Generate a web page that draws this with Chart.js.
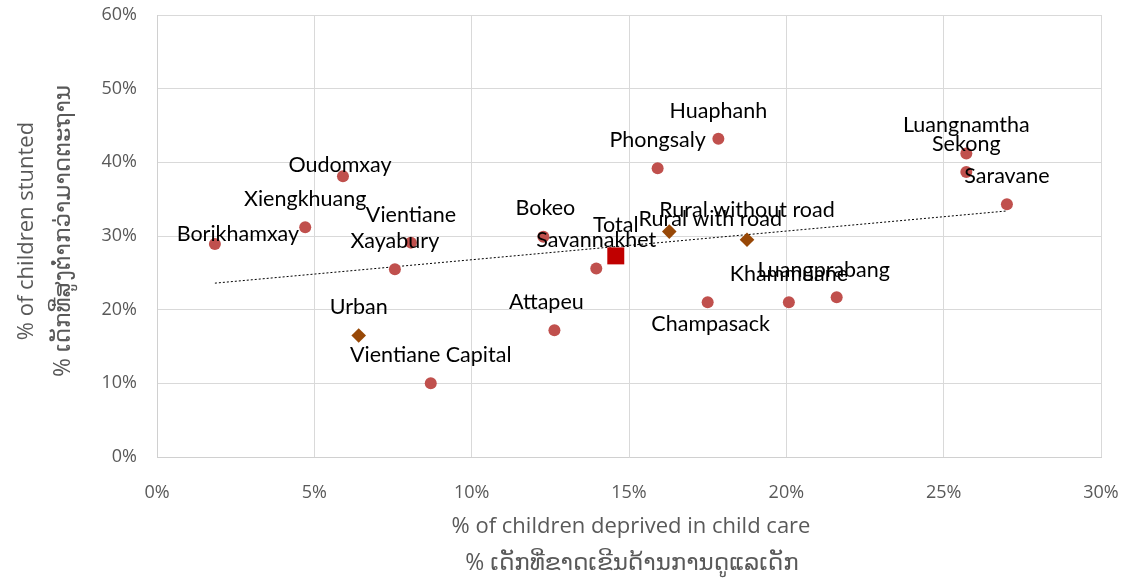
<!DOCTYPE html>
<html>
<head>
<meta charset="utf-8">
<script src="https://cdn.jsdelivr.net/npm/chart.js@4.4.1/dist/chart.umd.min.js"></script>
<style>
  html, body { margin: 0; padding: 0; background: #ffffff; }
  #wrap { width: 1127px; height: 583px; }
</style>
</head>
<body>
<div id="wrap"><canvas id="c" width="1127" height="583"></canvas></div>
<script>
// Provinces: child-care deprivation (%) vs stunting (%)
const provinceNames = ['Borikhamxay', 'Xiengkhuang', 'Oudomxay', 'Vientiane', 'Xayabury',
  'Vientiane Capital', 'Bokeo', 'Savannakhet', 'Attapeu', 'Phongsaly', 'Huaphanh',
  'Champasack', 'Khammuane', 'Luangprabang', 'Luangnamtha', 'Sekong', 'Saravane'];
const provinceDeprived = [1.84, 4.71, 5.91, 8.07, 7.56, 8.70, 12.28, 13.96, 12.63, 15.91, 17.84,
  17.50, 20.08, 21.60, 25.72, 25.72, 27.01];
const provinceStunted = [28.9, 31.2, 38.1, 29.1, 25.5, 10.0, 29.9, 25.6, 17.2, 39.2, 43.2,
  21.0, 21.0, 21.7, 41.2, 38.7, 34.3];

// Area of residence
const areaNames = ['Urban', 'Rural with road', 'Rural without road'];
const areaDeprived = [6.41, 16.28, 18.75];
const areaStunted = [16.5, 30.6, 29.5];

// National total
const totalNames = ['Total'];
const totalDeprived = [14.58];
const totalStunted = [27.3];

// Linear trend (end points)
const trendDeprived = [1.84, 27.01];
const trendStunted = [23.6, 33.4];

// Axis ticks
const xTicks = [0, 5, 10, 15, 20, 25, 30];
const yTicks = [0, 10, 20, 30, 40, 50, 60];

const xTitle = ['% of children deprived in child care', '% ເດັກທີ່ຂາດເຂີນດ້ານການດູແລເດັກ'];
const yTitle = ['% of children stunted', '% ເດັກທີ່ສູງຕ່ຳກວ່າມາດຕະຖານ'];

// Label placement relative to the marker centre (pixels)
const labelShift = {
  'Borikhamxay': [23, -10], 'Oudomxay': [-3, -11], 'Bokeo': [2, -29], 'Attapeu': [-8, -28],
  'Champasack': [3, 22], 'Luangprabang': [-13, -27], 'Rural with road': [41, -13],
  'Rural without road': [0, -30], 'Total': [0, -31]
};
const defaultShift = [0, -28];

const pts = (xs, ys) => xs.map((x, i) => ({ x: x, y: ys[i] }));

const labelFont = '21.5px Lato, "Open Sans", sans-serif';
const axisFont = { family: '"Open Sans", "DejaVu Sans", sans-serif', size: 18 };
const titleFont = '22px "Open Sans", "DejaVu Sans", sans-serif';
const titleFontLao = '23px "Open Sans", "DejaVu Sans", sans-serif';
const grey = '#595959';

const pointLabels = {
  id: 'pointLabels',
  afterDatasetsDraw(chart) {
    const ctx = chart.ctx;
    ctx.save();
    ctx.font = labelFont;
    ctx.fillStyle = '#000000';
    ctx.textAlign = 'center';
    ctx.textBaseline = 'middle';
    chart.data.datasets.forEach((ds, di) => {
      if (!ds.names) return;
      const meta = chart.getDatasetMeta(di);
      meta.data.forEach((el, i) => {
        const name = ds.names[i];
        const s = labelShift[name] || defaultShift;
        ctx.fillText(name, el.x + s[0], el.y + s[1]);
      });
    });
    ctx.restore();
  }
};

const axisTitles = {
  id: 'axisTitles',
  afterDraw(chart) {
    const ctx = chart.ctx;
    ctx.save();
    ctx.fillStyle = grey;
    ctx.textAlign = 'center';
    ctx.textBaseline = 'alphabetic';
    ctx.font = titleFont;
    ctx.fillText(xTitle[0], 631, 533);
    ctx.font = titleFontLao;
    ctx.fillText(xTitle[1], 632, 570);
    ctx.translate(0, 231);
    ctx.rotate(-Math.PI / 2);
    ctx.font = titleFont;
    ctx.fillText(yTitle[0], 0, 33);
    ctx.font = titleFontLao;
    ctx.fillText(yTitle[1], 0, 70);
    ctx.restore();
  }
};

// Scales keep a fixed size and add no extra label padding
function noPad(s) {
  s.paddingTop = 0; s.paddingBottom = 0; s.paddingLeft = 0; s.paddingRight = 0;
}

new Chart(document.getElementById('c'), {
  type: 'scatter',
  data: {
    datasets: [
      {
        label: 'Total', names: totalNames, data: pts(totalDeprived, totalStunted),
        pointStyle: 'rect', pointRadius: 12, pointHoverRadius: 12,
        backgroundColor: '#C00000', borderColor: '#C00000', borderWidth: 0, order: 1
      },
      {
        label: 'Area', names: areaNames, data: pts(areaDeprived, areaStunted),
        pointStyle: 'rectRot', pointRadius: 7.3, pointHoverRadius: 7.3,
        backgroundColor: '#984807', borderColor: '#984807', borderWidth: 0, order: 2
      },
      {
        label: 'Province', names: provinceNames, data: pts(provinceDeprived, provinceStunted),
        pointStyle: 'circle', pointRadius: 6, pointHoverRadius: 6,
        backgroundColor: '#C0504D', borderColor: '#C0504D', borderWidth: 0, order: 3
      },
      {
        type: 'line', label: 'Trend', data: pts(trendDeprived, trendStunted),
        borderColor: '#000000', borderWidth: 1, borderDash: [2, 2], pointRadius: 0,
        fill: false, tension: 0, order: 10
      }
    ]
  },
  options: {
    responsive: false,
    animation: false,
    events: [],
    layout: { padding: { top: 15, right: 26, left: 0, bottom: 0 } },
    plugins: { legend: { display: false }, tooltip: { enabled: false } },
    scales: {
      x: {
        type: 'linear', min: 0, max: 30,
        afterBuildTicks(s) { s.ticks = xTicks.map(v => ({ value: v })); },
        afterFit(s) { s.height = 126; noPad(s); },
        ticks: { color: grey, font: axisFont, padding: 25, maxRotation: 0, callback: v => v + '%' },
        grid: { color: '#D9D9D9', lineWidth: 1, drawTicks: false },
        border: { color: '#D0D0D0', width: 1 }
      },
      y: {
        type: 'linear', min: 0, max: 60,
        afterBuildTicks(s) { s.ticks = yTicks.map(v => ({ value: v })); },
        afterFit(s) { s.width = 157; noPad(s); },
        ticks: { color: grey, font: axisFont, padding: 20, callback: v => v + '%' },
        grid: { color: '#D9D9D9', lineWidth: 1, drawTicks: false },
        border: { color: '#D0D0D0', width: 1 }
      }
    }
  },
  plugins: [pointLabels, axisTitles]
});
</script>
</body>
</html>
